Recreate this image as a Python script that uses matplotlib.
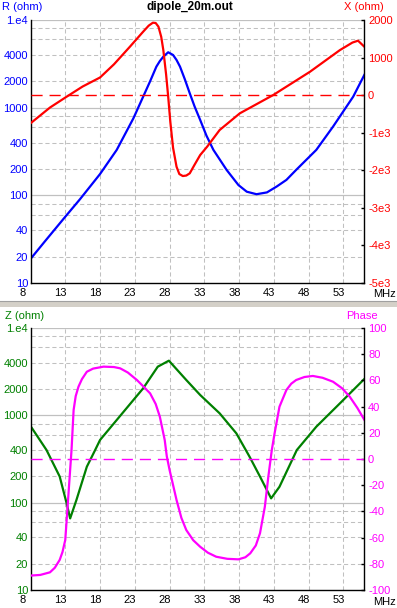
import numpy as np
import matplotlib.pyplot as plt
from matplotlib.transforms import ScaledTranslation
from matplotlib.patches import Rectangle

plt.rcParams['font.family'] = ['Liberation Sans', 'DejaVu Sans']
plt.rcParams['font.size'] = 8
plt.rcParams['lines.scale_dashes'] = False

# --- data ---
# top panel: R (ohm, log, left) and X (ohm, right)
r_freq = [8, 10, 13, 15.1, 18, 20.4, 22.8, 24.2, 25.2, 26.1, 26.6, 27.1, 27.8, 28.5, 29.0, 29.5,
          30.2, 30.9, 31.6, 32.4, 33.3, 34.3, 36.2, 37.9, 39.1, 40.5, 42.0, 43.4, 44.8, 46.2,
          49.1, 51.5, 54.4, 56]
r_vals = [18.8, 29.4, 57, 90, 175, 330, 757, 1334, 2000, 2937, 3400, 3816, 4285, 3990, 3500, 2937,
          2100, 1459, 1030, 724, 480, 330, 195, 131, 110, 103, 108, 126, 150, 195,
          330, 607, 1334, 2360]

x_freq = [8, 10.8, 13.2, 15.5, 18, 20, 22.3, 24.2, 25.0, 25.6, 26.0, 26.4, 26.8, 27.1, 27.5,
          27.8, 28.1, 28.5, 29.0, 29.4, 29.9, 30.4, 30.9, 31.6, 32.4, 33.4, 35.2, 38.1, 42.9,
          48.2, 52.5, 54.3, 55.1, 56]
x_vals = [-750, -330, -41, 230, 470, 820, 1290, 1689, 1850, 1928, 1920, 1822, 1550, 1200, 550,
          -41, -700, -1400, -1905, -2100, -2153, -2140, -2081, -1850, -1594, -1372, -928, -484, 3,
          624, 1200, 1400, 1449, 1290]

# bottom panel: Z (ohm, log, left) and phase (deg, right)
z_freq = [8, 10.3, 12.2, 13.2, 13.7, 14.6, 16.1, 17.3, 18, 22.8, 24.2, 26.3, 27.9, 30.4, 32.4,
          35.2, 37.6, 39.5, 41, 42.6, 43.8, 46.3, 49.1, 52.5, 56]
z_vals = [755, 401, 199, 98, 66, 107, 258, 401, 522, 1499, 2038, 3606, 4225, 2539, 1710,
          1054, 622, 336, 199, 112, 152, 401, 741, 1373, 2606]

p_freq = [8, 9.4, 10.8, 11.5, 12.2, 12.6, 13.0, 13.4, 13.9, 14.2, 14.5, 14.9, 15.4, 16.1, 17.0,
          18.5, 20.0, 20.9, 22.0, 23.3, 24.3, 25.2, 26.0, 26.6, 27.3, 27.6, 28.0, 29.0, 29.7,
          30.4, 31.4, 32.4, 33.5, 34.7, 36.3, 37.9, 38.9, 39.6, 40.4, 41.0, 41.7, 42.2, 42.7,
          43.1, 43.8, 44.8, 45.5, 46.2, 47.4, 48.6, 50.0, 51.5, 52.8, 53.9, 55.0, 56]
p_vals = [-89, -88.5, -86.5, -83, -77, -71, -61.8, -31.3, 6.9, 37.4, 48, 55.2, 61, 66.6, 69,
          70.5, 70.2, 69.2, 66, 60.3, 55, 50.1, 42, 32.3, 14.5, 2, -8.4, -31.3, -45,
          -54.2, -62, -67, -71.5, -74.6, -76.2, -76.6, -75, -72, -66, -56.7, -36.4, -13.5, 6.9,
          19.6, 39.9, 52.7, 57.5, 60.3, 62.6, 63.4, 62, 59, 54, 47.6, 39, 30]

freq_ticks = [8, 13, 18, 23, 28, 33, 38, 43, 48, 53]
log_ticks = [1e4, 4000, 2000, 1000, 400, 200, 100, 40, 20, 10]
log_labels = ['1.e4', '4000', '2000', '1000', '400', '200', '100', '40', '20', '10']
x_ticks = [2000, 1000, 0, -1000, -2000, -3000, -4000, -5000]
x_labels = ['2000', '1000', '0', '-1e3', '-2e3', '-3e3', '-4e3', '-5e3']
p_ticks = [100, 80, 60, 40, 20, 0, -20, -40, -60, -80, -100]

W, H = 397, 608
fig = plt.figure(figsize=(W / 100, H / 100), dpi=100)
fig.patch.set_facecolor('white')


def box(l, t, r, b):
    return [l / W, 1 - b / H, (r - l) / W, (b - t) / H]


GRID = '#c0c0c0'


def make_panel(rect, lcolor, rcolor):
    ax = fig.add_axes(rect)
    ax.set_yscale('log')
    ax.set_ylim(10, 1e4)
    ax.set_xlim(8, 56)
    ax.set_yticks(log_ticks, log_labels)
    ax.yaxis.set_minor_locator(plt.NullLocator())
    ax.set_xticks(freq_ticks, [str(t) for t in freq_ticks])
    ax.tick_params(axis='y', length=0, pad=1.8, labelcolor=lcolor)
    ax.tick_params(axis='x', length=0, pad=3.5, labelcolor='black')
    off = ScaledTranslation(-11 / 100, 0, fig.dpi_scale_trans)
    for lab in ax.get_xticklabels():
        lab.set_horizontalalignment('left')
        lab.set_transform(lab.get_transform() + off)
    # grid
    for v in [20, 40, 60, 80, 200, 400, 600, 800, 2000, 4000, 6000, 8000]:
        ax.axhline(v, color=GRID, lw=0.75, dashes=(3, 2), zorder=0)
    for v in [100, 1000, 1e4]:
        ax.axhline(v, color=GRID, lw=0.9, zorder=0)
    for v in freq_ticks[1:]:
        ax.axvline(v, color=GRID, lw=0.75, dashes=(3, 2), zorder=0)
    ax.spines['top'].set_visible(False)
    ax.spines['right'].set_visible(False)
    ax.spines['left'].set_linewidth(1.0)
    ax.spines['bottom'].set_linewidth(1.0)

    axr = ax.twinx()
    axr.spines['top'].set_visible(False)
    axr.spines['left'].set_visible(False)
    axr.spines['bottom'].set_visible(False)
    axr.spines['right'].set_linewidth(1.0)
    axr.tick_params(axis='y', direction='in', length=2.5, width=1, color='black',
                    pad=2.7, labelcolor=rcolor)
    return ax, axr


ax1, ax1r = make_panel(box(30.5, 20, 364.3, 283), 'blue', 'red')
ax1r.set_ylim(-5000, 2000)
ax1r.set_yticks(x_ticks, x_labels)
ax1r.axhline(0, color='red', lw=1.0, dashes=(8, 5))
ax1.plot(r_freq, r_vals, color='blue', lw=1.6)
ax1r.plot(x_freq, x_vals, color='red', lw=1.6)

ax2, ax2r = make_panel(box(30.5, 328, 364.3, 590), 'green', 'magenta')
ax2r.set_ylim(-100, 100)
ax2r.set_yticks(p_ticks, [str(t) for t in p_ticks])
ax2r.axhline(0, color='magenta', lw=1.0, dashes=(8, 5))
ax2.plot(z_freq, z_vals, color='green', lw=1.6)
ax2r.plot(p_freq, p_vals, color='magenta', lw=1.6)

# titles / axis captions
fig.text(2 / W, 1 - 10.5 / H, 'R (ohm)', color='blue', va='baseline', ha='left')
fig.text(384 / W, 1 - 10.5 / H, 'X (ohm)', color='red', va='baseline', ha='right')
fig.text(189.5 / W, 1 - 10 / H, 'dipole_20m.out', color='black', va='baseline',
         ha='center', fontweight='bold', fontsize=8.5)
fig.text(373 / W, 1 - 297 / H, 'MHz', va='baseline', ha='left')

fig.text(5 / W, 1 - 319.5 / H, 'Z (ohm)', color='green', va='baseline', ha='left')
fig.text(378 / W, 1 - 319 / H, 'Phase', color='magenta', va='baseline', ha='right')
fig.text(373 / W, 1 - 605 / H, 'MHz', va='baseline', ha='left')

# splitter bar between the two panels
fig.add_artist(Rectangle((0, 1 - 307 / H), 1, 6 / H, transform=fig.transFigure,
                         facecolor='#d4d0c8', edgecolor='none'))
fig.add_artist(plt.Line2D([0, 1], [1 - 301 / H, 1 - 301 / H], transform=fig.transFigure,
                          color='#a0a0a0', lw=0.8))

fig.savefig('out.png', dpi=100)
